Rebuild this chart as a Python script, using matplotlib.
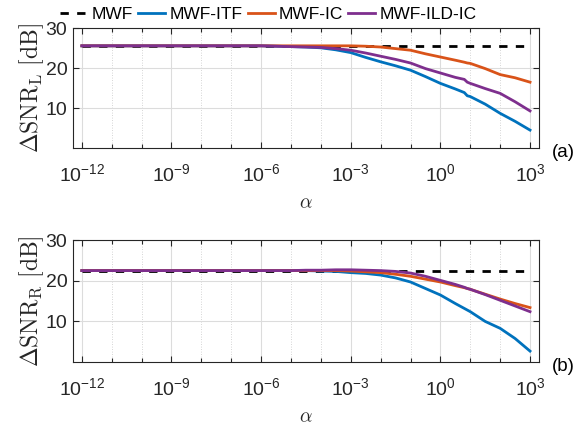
import numpy as np
import matplotlib
matplotlib.use("Agg")
import matplotlib.pyplot as plt
from matplotlib.ticker import FixedLocator, FuncFormatter, NullFormatter

plt.rcParams['font.family'] = ['Liberation Sans', 'DejaVu Sans']
plt.rcParams['mathtext.fontset'] = 'custom'
plt.rcParams['mathtext.rm'] = 'Liberation Sans'
plt.rcParams['mathtext.it'] = 'Liberation Sans:italic'

# log10(alpha) sample points
alpha_exp = [-12, -11, -10, -9, -8, -7, -6, -5.5, -5, -4.5, -4, -3.5, -3,
             -2.5, -2, -1.5, -1, -0.5, 0, 0.5, 0.8, 0.9, 1, 1.5, 2, 2.5, 3]

# panel (a): Delta SNR left [dB]
a_mwf = [25.6] * 27
a_itf = [25.6, 25.6, 25.6, 25.6, 25.6, 25.6, 25.6, 25.5, 25.4, 25.3, 25.1, 24.6, 23.9,
         22.7, 21.6, 20.6, 19.5, 17.9, 16.2, 14.8, 13.9, 13.1, 12.9, 11.0, 8.7, 6.7, 4.5]
a_ic = [25.6, 25.6, 25.6, 25.6, 25.6, 25.6, 25.6, 25.6, 25.6, 25.6, 25.6, 25.6, 25.6,
        25.5, 25.3, 24.9, 24.5, 23.6, 22.8, 22.0, 21.5, 21.3, 21.2, 19.9, 18.4, 17.6, 16.5]
a_ildic = [25.6, 25.6, 25.6, 25.6, 25.6, 25.6, 25.6, 25.5, 25.4, 25.3, 25.2, 24.9, 24.5,
           23.8, 23.0, 22.2, 21.3, 19.9, 18.8, 17.7, 17.2, 16.5, 16.2, 14.9, 13.7, 11.6, 9.3]

# panel (b): Delta SNR right [dB]
b_mwf = [22.5] * 27
b_itf = [22.5, 22.5, 22.5, 22.5, 22.5, 22.5, 22.5, 22.5, 22.5, 22.5, 22.4, 22.3, 22.0,
         21.8, 21.4, 20.7, 19.7, 18.1, 16.5, 14.4, 13.2, 12.8, 12.4, 10.0, 8.3, 5.8, 2.7]
b_ic = [22.5, 22.5, 22.5, 22.5, 22.5, 22.5, 22.5, 22.5, 22.5, 22.5, 22.5, 22.5, 22.4,
        22.2, 22.0, 21.6, 21.1, 20.4, 19.7, 18.8, 18.3, 18.1, 17.9, 16.7, 15.5, 14.4, 13.4]
b_ildic = [22.5, 22.5, 22.5, 22.5, 22.5, 22.5, 22.5, 22.5, 22.5, 22.6, 22.6, 22.7, 22.7,
           22.6, 22.5, 22.3, 21.9, 21.1, 20.1, 19.1, 18.4, 18.1, 17.9, 16.6, 15.2, 13.8, 12.4]

labels = ['MWF', 'MWF-ITF', 'MWF-IC', 'MWF-ILD-IC']
colors = ['k', '#0072BD', '#D95319', '#7E2F8E']
dark = '#262626'

alpha = [10.0 ** e for e in alpha_exp]

fig = plt.figure(figsize=(5.74, 4.28), dpi=100)
ax_a = fig.add_axes([0.127, 0.654, 0.812, 0.280])
ax_b = fig.add_axes([0.127, 0.154, 0.812, 0.285])


def fmt_pow(x, pos):
    return r'$10^{%d}$' % int(round(np.log10(x)))


def setup(ax, series, ylabel, tag):
    handles = []
    for i, (y, lab, c) in enumerate(zip(series, labels, colors)):
        if i == 0:
            h, = ax.plot(alpha, y, color=c, lw=2, ls=(0, (3, 3)), label=lab, zorder=3)
        else:
            h, = ax.plot(alpha, y, color=c, lw=2, label=lab, zorder=3)
        handles.append(h)
    ax.set_xscale('log')
    ax.set_xlim(10 ** -12.3, 10 ** 3.3)
    ax.set_ylim(0, 30)
    ax.xaxis.set_major_locator(FixedLocator([10.0 ** k for k in range(-12, 4, 3)]))
    ax.xaxis.set_minor_locator(FixedLocator([10.0 ** k for k in range(-12, 4) if k % 3 != 0]))
    ax.xaxis.set_major_formatter(FuncFormatter(fmt_pow))
    ax.xaxis.set_minor_formatter(NullFormatter())
    ax.set_yticks([10, 20, 30])
    ax.tick_params(which='both', direction='in', top=True, right=True,
                   colors=dark, labelsize=14, width=0.8)
    ax.tick_params(axis='x', which='major', length=4, pad=11)
    ax.tick_params(axis='x', which='minor', length=3)
    ax.tick_params(axis='y', length=4, pad=4)
    ax.grid(which='major', color='#dcdcdc', lw=0.8, ls='-')
    ax.grid(which='minor', axis='x', color='#c8c8c8', lw=0.6, ls=(0, (1, 2)))
    ax.set_axisbelow(True)
    for s in ax.spines.values():
        s.set_color(dark)
        s.set_linewidth(0.8)
    ax.set_ylabel(ylabel, fontsize=17, math_fontfamily='cm', color=dark, labelpad=0)
    ax.set_xlabel(r'$\alpha$', fontsize=14, math_fontfamily='cm', color=dark, labelpad=7)
    ax.text(1.028, -0.04, tag, transform=ax.transAxes, fontsize=13.5,
            ha='left', va='center', color='k')
    return handles


handles = setup(ax_a, [a_mwf, a_itf, a_ic, a_ildic],
                r'$\Delta\mathrm{SNR}_\mathrm{L}\ [\mathrm{dB}]$', '(a)')
setup(ax_b, [b_mwf, b_itf, b_ic, b_ildic],
      r'$\Delta\mathrm{SNR}_\mathrm{R}\ [\mathrm{dB}]$', '(b)')

fig.legend(handles, labels, loc='center', bbox_to_anchor=(0.468, 0.966), ncol=4,
           frameon=False, fontsize=12.5, handlelength=1.55, handletextpad=0.25,
           columnspacing=0.3, borderaxespad=0)

fig.savefig('out.png', dpi=100)
